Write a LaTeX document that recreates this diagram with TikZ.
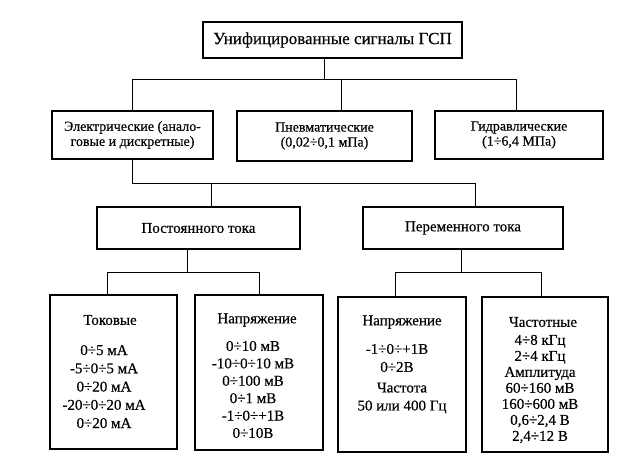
\documentclass[tikz,border=0pt]{standalone}
\usepackage{fontspec}
\setmainfont{Liberation Serif}
\newfontfamily\heavyserif{Liberation Serif}[FakeBold=0.4]
\begin{document}
\begin{tikzpicture}[x=1pt,y=-1pt,
  box/.style={draw, line width=1.5pt, inner sep=0pt, align=center},
  conn/.style={line width=1pt},
  ftop/.style={font=\heavyserif\fontsize{17}{20}\selectfont},
  fmid/.style={font=\heavyserif\fontsize{14}{15}\selectfont},
  frow/.style={font=\heavyserif\fontsize{15}{17}\selectfont},
  txt/.style={inner sep=0pt, align=center}]
\useasboundingbox (0,0) rectangle (643,470);
% top
\node[box, ftop, minimum width=259pt, minimum height=36pt] (top) at (332.5,40) {Унифицированные сигналы ГСП};
% row 2
\node[box, fmid, minimum width=161pt, minimum height=48pt] (el) at (132.5,135) {Электрические (анало-\\говые и дискретные)};
\node[box, fmid, minimum width=175pt, minimum height=50pt] (pn) at (324.5,136) {Пневматические\\(0,02÷0,1 мПа)};
\node[box, fmid, minimum width=168pt, minimum height=48pt] (hy) at (519,135) {Гидравлические\\(1÷6,4 МПа)};
% row 3
\node[box, frow, minimum width=203pt, minimum height=42pt] (po) at (198.5,228) {Постоянного тока};
\node[box, frow, minimum width=200pt, minimum height=42pt] (pe) at (463,228) {Переменного тока};
% bottom boxes
\node[box, minimum width=127pt, minimum height=154pt] (tk) at (113.5,372) {};
\node[box, minimum width=128pt, minimum height=155pt] (na) at (259,372.5) {};
\node[box, minimum width=128pt, minimum height=155pt] (nb) at (402,374.5) {};
\node[box, minimum width=126pt, minimum height=155pt] (ch) at (545,374.5) {};
% bottom texts
\node[txt, frow] (tkt) at (110,320) {Токовые};
\node[txt, font=\heavyserif\fontsize{15}{18.25}\selectfont] (tkv) at (104,386.6) {0÷5 мА\\-5÷0÷5 мА\\0÷20 мА\\-20÷0÷20 мА\\0÷20 мА};
\node[txt, frow] (nat) at (257,320) {Напряжение};
\node[txt, font=\heavyserif\fontsize{15}{17.4}\selectfont] (nav) at (253,389.5) {0÷10 мВ\\-10÷0÷10 мВ\\0÷100 мВ\\0÷1 мВ\\-1÷0÷+1В\\0÷10В};
\node[txt, frow] (nbt) at (402,322) {Напряжение};
\node[txt, font=\heavyserif\fontsize{15}{18}\selectfont] (nbv) at (397,358) {-1÷0÷+1В\\0÷2В};
\node[txt, font=\heavyserif\fontsize{15}{18}\selectfont] (nbf) at (402,398) {Частота\\50 или 400 Гц};
\node[txt, frow] (cht) at (543,322) {Частотные};
\node[txt, font=\heavyserif\fontsize{15}{16}\selectfont] (chv) at (540,389) {4÷8 кГц\\2÷4 кГц\\Амплитуда\\60÷160 мВ\\160÷600 мВ\\0,6÷2,4 В\\2,4÷12 В};
% connectors level 1
\coordinate (b1) at (324,80);
\draw[conn] ([xshift=-8.5pt]top.south) -- (b1);
\draw[conn] (el.north) -- (el.north |- b1) -- ([xshift=-3pt]hy.north |- b1) -- ([xshift=-3pt]hy.north);
\draw[conn] ([xshift=16.5pt]pn.north) -- ([xshift=16.5pt]pn.north |- b1);
% connectors level 2
\coordinate (b2) at (0,184);
\draw[conn] (el.south) -- (el.south |- b2) -- ([xshift=12pt]pe.north |- b2) -- ([xshift=12pt]pe.north);
\draw[conn] ([xshift=12.5pt]po.north) -- ([xshift=12.5pt]po.north |- b2);
% connectors level 3
\coordinate (b3) at (0,273);
\draw[conn] ([xshift=-11.5pt]po.south) -- ([xshift=-11.5pt]po.south |- b3);
\draw[conn] ([xshift=-6.5pt]tk.north) -- ([xshift=-6.5pt]tk.north |- b3) -- (na.north |- b3) -- (na.north);
\draw[conn] ([xshift=-2pt]pe.south) -- ([xshift=-2pt]pe.south |- b3);
\draw[conn] ([xshift=-7pt]nb.north) -- ([xshift=-7pt]nb.north |- b3) -- ([xshift=-4pt]ch.north |- b3) -- ([xshift=-4pt]ch.north);
\end{tikzpicture}
\end{document}
